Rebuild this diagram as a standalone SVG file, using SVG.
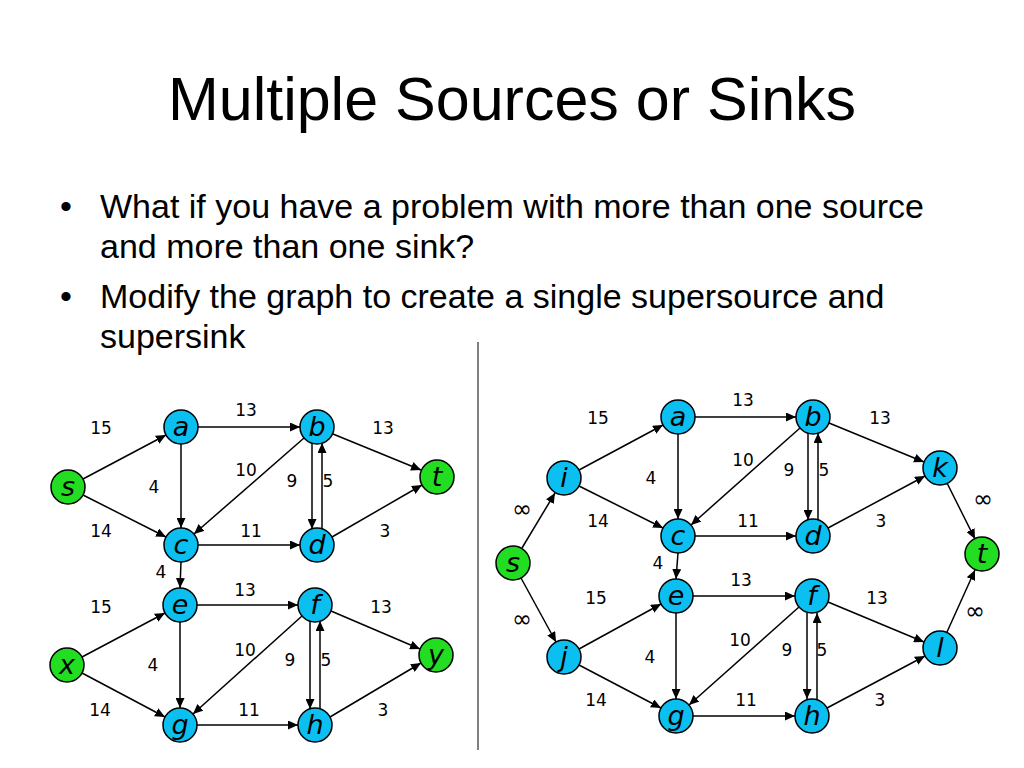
<svg xmlns="http://www.w3.org/2000/svg" width="1024" height="768" viewBox="0 0 1024 768">
<style>
.title{font-family:"Liberation Sans",Arial,sans-serif;font-size:61px;fill:#000}
.body{font-family:"Liberation Sans",Arial,sans-serif;font-size:34px;fill:#000}
.n{stroke:#000;stroke-width:1.5}
.b{fill:#0bbff0}.g{fill:#22dd22}
.nl{font-family:"DejaVu Sans",Verdana,sans-serif;font-style:italic;font-size:27px;text-anchor:middle;fill:#000}
.el{font-family:"DejaVu Sans",Verdana,sans-serif;font-size:17px;text-anchor:middle;fill:#000}
.inf{font-size:24px}
.e line{stroke:#000;stroke-width:1.5;marker-end:url(#ah)}
</style>
<defs><marker id="ah" markerUnits="userSpaceOnUse" markerWidth="11" markerHeight="9" refX="10" refY="4.5" orient="auto"><path d="M0,0 L10,4.5 L0,9 Z" fill="#000"/></marker></defs>
<rect width="1024" height="768" fill="#fff"/>
<text class="title" x="512" y="120" text-anchor="middle">Multiple Sources or Sinks</text>
<text class="body" x="60" y="218">•</text>
<text class="body" x="100" y="218">What if you have a problem with more than one source</text>
<text class="body" x="100" y="258">and more than one sink?</text>
<text class="body" x="60" y="308">•</text>
<text class="body" x="100" y="308">Modify the graph to create a single supersource and</text>
<text class="body" x="100" y="348">supersink</text>
<line x1="478" y1="342" x2="478" y2="750" stroke="#555" stroke-width="1.5"/>
<g id="connectors" class="e">
<line x1="83" y1="479" x2="166" y2="435"/><line x1="198" y1="427" x2="300" y2="427"/>
<line x1="181" y1="444" x2="181" y2="528"/><line x1="83" y1="495" x2="166" y2="537"/>
<line x1="304" y1="438" x2="194" y2="534"/><line x1="312" y1="443" x2="312" y2="529"/>
<line x1="322" y1="529" x2="322" y2="443"/><line x1="333" y1="434" x2="421" y2="470"/>
<line x1="198" y1="545" x2="300" y2="545"/><line x1="332" y1="537" x2="422" y2="485"/>
<line x1="181" y1="562" x2="180" y2="588"/><line x1="197" y1="605" x2="298" y2="605"/>
<line x1="82" y1="657" x2="165" y2="613"/><line x1="180" y1="622" x2="180" y2="708"/>
<line x1="82" y1="673" x2="165" y2="717"/><line x1="302" y1="616" x2="193" y2="714"/>
<line x1="310" y1="621" x2="310" y2="709"/><line x1="320" y1="709" x2="320" y2="621"/>
<line x1="331" y1="611" x2="420" y2="649"/><line x1="197" y1="725" x2="298" y2="725"/>
<line x1="330" y1="717" x2="421" y2="663"/>
<line x1="522" y1="548" x2="555" y2="493"/><line x1="521" y1="578" x2="556" y2="642"/>
<line x1="579" y1="470" x2="663" y2="425"/><line x1="579" y1="486" x2="663" y2="528"/>
<line x1="695" y1="417" x2="796" y2="417"/><line x1="678" y1="434" x2="678" y2="519"/>
<line x1="800" y1="428" x2="691" y2="525"/><line x1="808" y1="433" x2="808" y2="520"/>
<line x1="818" y1="520" x2="818" y2="433"/><line x1="829" y1="423" x2="924" y2="462"/>
<line x1="695" y1="536" x2="796" y2="536"/><line x1="828" y1="528" x2="925" y2="476"/>
<line x1="947" y1="483" x2="975" y2="539"/><line x1="678" y1="553" x2="676" y2="579"/>
<line x1="579" y1="649" x2="661" y2="604"/><line x1="579" y1="665" x2="661" y2="708"/>
<line x1="693" y1="596" x2="795" y2="596"/><line x1="676" y1="613" x2="676" y2="699"/>
<line x1="799" y1="607" x2="689" y2="705"/><line x1="807" y1="613" x2="807" y2="699"/>
<line x1="817" y1="699" x2="817" y2="613"/><line x1="828" y1="602" x2="924" y2="642"/>
<line x1="693" y1="716" x2="795" y2="716"/><line x1="827" y1="708" x2="925" y2="656"/>
<line x1="947" y1="632" x2="975" y2="570"/>
</g>
<g id="edge-labels">
<text class="el" x="101" y="434">15</text><text class="el" x="246" y="416">13</text><text class="el" x="383" y="434">13</text>
<text class="el" x="246" y="476">10</text><text class="el" x="154" y="493">4</text><text class="el" x="292" y="487">9</text><text class="el" x="328" y="487">5</text>
<text class="el" x="101" y="537">14</text><text class="el" x="251" y="537">11</text><text class="el" x="385" y="537">3</text>
<text class="el" x="161" y="578">4</text><text class="el" x="245" y="596">13</text><text class="el" x="101" y="613">15</text><text class="el" x="381" y="613">13</text>
<text class="el" x="245" y="656">10</text><text class="el" x="290" y="666">9</text><text class="el" x="326" y="666">5</text><text class="el" x="153" y="671">4</text>
<text class="el" x="100" y="716">14</text><text class="el" x="249" y="716">11</text><text class="el" x="383" y="716">3</text>
<text class="el" x="743" y="406">13</text><text class="el" x="598" y="424">15</text><text class="el" x="880" y="424">13</text>
<text class="el" x="743" y="466">10</text><text class="el" x="789" y="476">9</text><text class="el" x="824" y="476">5</text><text class="el" x="651" y="484">4</text>
<text class="el inf" x="522" y="517">∞</text><text class="el inf" x="983" y="507">∞</text>
<text class="el" x="598" y="527">14</text><text class="el" x="748" y="527">11</text><text class="el" x="881" y="527">3</text>
<text class="el" x="658" y="569">4</text><text class="el" x="741" y="586">13</text><text class="el" x="596" y="604">15</text><text class="el" x="877" y="604">13</text>
<text class="el inf" x="522" y="627">∞</text><text class="el inf" x="975" y="619">∞</text>
<text class="el" x="740" y="646">10</text><text class="el" x="787" y="656">9</text><text class="el" x="822" y="656">5</text><text class="el" x="650" y="663">4</text>
<text class="el" x="596" y="706">14</text><text class="el" x="746" y="706">11</text><text class="el" x="880" y="706">3</text>
</g>
<g id="L-s"><circle class="n g" cx="68" cy="487" r="17"/><text class="nl" x="68" y="496">s</text></g>
<g id="L-a"><circle class="n b" cx="181" cy="427" r="17"/><text class="nl" x="181" y="436">a</text></g>
<g id="L-b"><circle class="n b" cx="317" cy="427" r="17"/><text class="nl" x="317" y="436">b</text></g>
<g id="L-t"><circle class="n g" cx="437" cy="477" r="17"/><text class="nl" x="437" y="486">t</text></g>
<g id="L-c"><circle class="n b" cx="181" cy="545" r="17"/><text class="nl" x="181" y="554">c</text></g>
<g id="L-d"><circle class="n b" cx="317" cy="545" r="17"/><text class="nl" x="317" y="554">d</text></g>
<g id="L-e"><circle class="n b" cx="180" cy="605" r="17"/><text class="nl" x="180" y="614">e</text></g>
<g id="L-f"><circle class="n b" cx="315" cy="605" r="17"/><text class="nl" x="315" y="614">f</text></g>
<g id="L-x"><circle class="n g" cx="67" cy="665" r="17"/><text class="nl" x="67" y="674">x</text></g>
<g id="L-y"><circle class="n g" cx="436" cy="655" r="17"/><text class="nl" x="436" y="664">y</text></g>
<g id="L-g"><circle class="n b" cx="180" cy="725" r="17"/><text class="nl" x="180" y="734">g</text></g>
<g id="L-h"><circle class="n b" cx="315" cy="725" r="17"/><text class="nl" x="315" y="734">h</text></g>
<g id="R-s"><circle class="n g" cx="513" cy="563" r="17"/><text class="nl" x="513" y="572">s</text></g>
<g id="R-i"><circle class="n b" cx="564" cy="478" r="17"/><text class="nl" x="564" y="487">i</text></g>
<g id="R-j"><circle class="n b" cx="564" cy="657" r="17"/><text class="nl" x="564" y="666">j</text></g>
<g id="R-a"><circle class="n b" cx="678" cy="417" r="17"/><text class="nl" x="678" y="426">a</text></g>
<g id="R-b"><circle class="n b" cx="813" cy="417" r="17"/><text class="nl" x="813" y="426">b</text></g>
<g id="R-k"><circle class="n b" cx="940" cy="468" r="17"/><text class="nl" x="940" y="477">k</text></g>
<g id="R-c"><circle class="n b" cx="678" cy="536" r="17"/><text class="nl" x="678" y="545">c</text></g>
<g id="R-d"><circle class="n b" cx="813" cy="536" r="17"/><text class="nl" x="813" y="545">d</text></g>
<g id="R-t"><circle class="n g" cx="982" cy="554" r="17"/><text class="nl" x="982" y="563">t</text></g>
<g id="R-e"><circle class="n b" cx="676" cy="596" r="17"/><text class="nl" x="676" y="605">e</text></g>
<g id="R-f"><circle class="n b" cx="812" cy="596" r="17"/><text class="nl" x="812" y="605">f</text></g>
<g id="R-l"><circle class="n b" cx="940" cy="648" r="17"/><text class="nl" x="940" y="657">l</text></g>
<g id="R-g"><circle class="n b" cx="676" cy="716" r="17"/><text class="nl" x="676" y="725">g</text></g>
<g id="R-h"><circle class="n b" cx="812" cy="716" r="17"/><text class="nl" x="812" y="725">h</text></g>
</svg>
